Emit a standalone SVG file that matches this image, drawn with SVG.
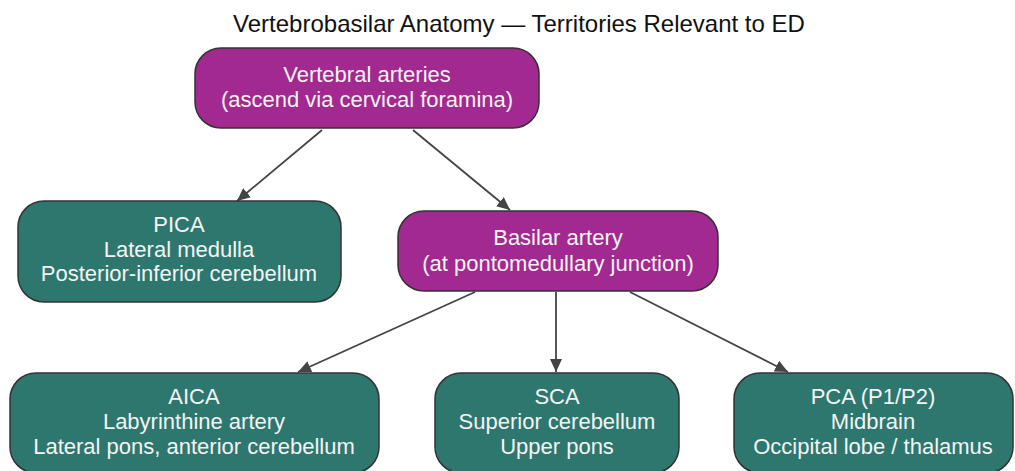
<svg xmlns="http://www.w3.org/2000/svg" width="1015" height="471" viewBox="0 0 1015 471">
<defs>
<marker id="ah" viewBox="0 0 13 12" refX="13" refY="6" markerWidth="13" markerHeight="12" markerUnits="userSpaceOnUse" orient="auto">
<path d="M0,0 L13,6 L0,12 z" fill="#444"/>
</marker>
<style>
.t{font-family:"Liberation Sans",Arial,sans-serif;}
.title{font-size:24px;fill:#111;}
.n{font-size:22px;fill:#f4f4f4;text-anchor:middle;}
.p{fill:#a2298f;stroke:#333;stroke-width:1.5;}
.g{fill:#2d776f;stroke:#333;stroke-width:1.5;}
.c{stroke:#444;stroke-width:1.8;fill:none;marker-end:url(#ah);}
</style>
</defs>
<rect width="1015" height="471" fill="#fff"/>
<text class="t title" x="519" y="32" text-anchor="middle">Vertebrobasilar Anatomy — Territories Relevant to ED</text>
<g id="connectors">
<line class="c" x1="322" y1="130" x2="237" y2="201"/>
<line class="c" x1="413" y1="130" x2="510" y2="210"/>
<line class="c" x1="475" y1="292" x2="298" y2="372"/>
<line class="c" x1="556" y1="292" x2="556" y2="372"/>
<line class="c" x1="630" y1="292" x2="788" y2="372"/>
</g>
<g id="vertebral">
<rect class="p" x="195" y="48" width="344" height="80" rx="26"/>
<text class="t n" x="367" y="82">Vertebral arteries</text>
<text class="t n" x="367" y="107">(ascend via cervical foramina)</text>
</g>
<g id="pica">
<rect class="g" x="18" y="201" width="323" height="101" rx="26"/>
<text class="t n" x="179" y="232">PICA</text>
<text class="t n" x="179" y="257">Lateral medulla</text>
<text class="t n" x="179" y="281">Posterior-inferior cerebellum</text>
</g>
<g id="basilar">
<rect class="p" x="398" y="211" width="320" height="80" rx="26"/>
<text class="t n" x="558" y="245">Basilar artery</text>
<text class="t n" x="558" y="271">(at pontomedullary junction)</text>
</g>
<g id="aica">
<rect class="g" x="10" y="373" width="369" height="100" rx="26"/>
<text class="t n" x="194" y="404">AICA</text>
<text class="t n" x="194" y="429">Labyrinthine artery</text>
<text class="t n" x="194" y="454">Lateral pons, anterior cerebellum</text>
</g>
<g id="sca">
<rect class="g" x="435" y="373" width="244" height="100" rx="26"/>
<text class="t n" x="557" y="404">SCA</text>
<text class="t n" x="557" y="429">Superior cerebellum</text>
<text class="t n" x="557" y="454">Upper pons</text>
</g>
<g id="pca">
<rect class="g" x="734" y="373" width="279" height="100" rx="26"/>
<text class="t n" x="873" y="404">PCA (P1/P2)</text>
<text class="t n" x="873" y="429">Midbrain</text>
<text class="t n" x="873" y="454">Occipital lobe / thalamus</text>
</g>
</svg>
